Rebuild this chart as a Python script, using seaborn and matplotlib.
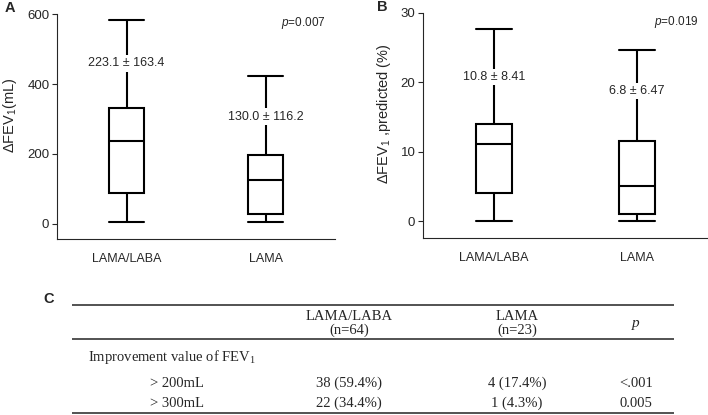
import matplotlib
matplotlib.use('Agg')
import matplotlib.pyplot as plt
import pandas as pd
import seaborn as sns

# five-number summaries (min, Q1, median, Q3, max)
groups = ['LAMA/LABA', 'LAMA']
fev_ml_laba = [5, 89, 238, 331, 583]
fev_ml_lama = [5, 28, 126, 196, 424]
fev_pct_laba = [0, 4.1, 11.1, 14.0, 27.7]
fev_pct_lama = [0, 1.1, 5.1, 11.6, 24.6]

ml_labels = ['223.1 ± 163.4', '130.0 ± 116.2']
ml_label_y = [459, 307]
pct_labels = ['10.8 ± 8.41', '6.8 ± 6.47']
pct_label_y = [20.8, 18.7]

# table C
table_header = ['LAMA/LABA\n(n=64)', 'LAMA\n(n=23)']
table_rows = ['> 200mL', '> 300mL']
table_laba = ['38 (59.4%)', '22 (34.4%)']
table_lama = ['4 (17.4%)', '1 (4.3%)']
table_p = ['<.001', '0.005']

sns.set_style('ticks')
plt.rcParams['font.family'] = ['Liberation Sans', 'DejaVu Sans']
plt.rcParams['mathtext.default'] = 'regular'
plt.rcParams['mathtext.fontset'] = 'custom'
plt.rcParams['mathtext.it'] = 'Liberation Sans:italic'
plt.rcParams['mathtext.rm'] = 'Liberation Sans'
plt.rcParams['axes.linewidth'] = 0.8


def make_df(a, b):
    return pd.DataFrame({'group': [groups[0]] * len(a) + [groups[1]] * len(b),
                         'value': list(a) + list(b)})


def draw_box(ax, df, labels, label_y, ylim, yticks, ylabel, ptext):
    sns.boxplot(data=df, x='group', y='value', order=groups, whis=(0, 100),
                width=0.25, capwidths=0.25, color='white', linecolor='black',
                linewidth=1.5, ax=ax)
    for i, (t, y) in enumerate(zip(labels, label_y)):
        ax.text(i, y, t, ha='center', va='center', fontsize=9, zorder=5,
                bbox=dict(facecolor='white', edgecolor='none', pad=1.5))
    ax.set_xlim(-0.5, 1.5)
    ax.set_ylim(*ylim)
    ax.set_yticks(yticks)
    ax.set_xlabel('')
    ax.set_ylabel(ylabel, fontsize=10.5)
    ax.tick_params(axis='y', length=3.5, width=0.8, labelsize=9.5, pad=2)
    ax.tick_params(axis='x', length=0, labelsize=9, pad=10)
    sns.despine(ax=ax)
    ax.spines['left'].set_bounds(ylim[0], yticks[-1])
    ax.text(0.965, 0.955, ptext, transform=ax.transAxes, ha='right',
            va='center', fontsize=8.5)


W, H = 708, 415
fig = plt.figure(figsize=(W / 100, H / 100), dpi=100)


def px_axes(left, top, right, bottom):
    return fig.add_axes([left / W, 1 - bottom / H, (right - left) / W, (bottom - top) / H])


ax_a = px_axes(57, 13, 335, 239)
draw_box(ax_a, make_df(fev_ml_laba, fev_ml_lama), ml_labels, ml_label_y,
         (-43, 603), [0, 200, 400, 600], 'ΔFEV$_1$(mL)', '$\\mathit{p}$=0.007')
ax_a.yaxis.set_label_coords(-0.135, 0.55)

ax_b = px_axes(423, 12, 708, 238)
draw_box(ax_b, make_df(fev_pct_laba, fev_pct_lama), pct_labels, pct_label_y,
         (-2.4, 30.1), [0, 10, 20, 30], 'ΔFEV$_1$ ,predicted (%)', '$\\mathit{p}$=0.019')
ax_b.yaxis.set_label_coords(-0.107, 0.55)

fig.text(5 / W, 1 - 8 / H, 'A', fontsize=10.5, fontweight='bold', va='center')
fig.text(377 / W, 1 - 7 / H, 'B', fontsize=10.5, fontweight='bold', va='center')
fig.text(43 / W, 1 - 299 / H, 'C', fontsize=10.5, fontweight='bold', va='center')

# table panel drawn in pixel space
tab = fig.add_axes([0, 0, 1, 1], zorder=-1)
tab.set_xlim(0, W)
tab.set_ylim(H, 0)
tab.axis('off')
serif = ['Liberation Serif', 'DejaVu Serif']
tab.hlines([305, 339, 413], 72, 674, color='#444444', linewidth=1.3)
col_x = [349, 517, 636]
for x, t in zip(col_x, table_header):
    tab.text(x, 323, t, ha='center', va='center', family=serif, fontsize=10.5,
             linespacing=1.05)
tab.text(col_x[2], 323, 'p', ha='center', va='center', family=serif,
         fontsize=11, style='italic')
tab.text(88, 357, 'Improvement value of FEV$_1$', ha='left', va='center',
         family=serif, fontsize=10.5)
for i, y in enumerate([383, 403]):
    tab.text(177, y, table_rows[i], ha='center', va='center', family=serif, fontsize=10.5)
    tab.text(col_x[0], y, table_laba[i], ha='center', va='center', family=serif, fontsize=10.5)
    tab.text(col_x[1], y, table_lama[i], ha='center', va='center', family=serif, fontsize=10.5)
    tab.text(col_x[2], y, table_p[i], ha='center', va='center', family=serif, fontsize=10.5)

fig.savefig('out.png', dpi=100)
